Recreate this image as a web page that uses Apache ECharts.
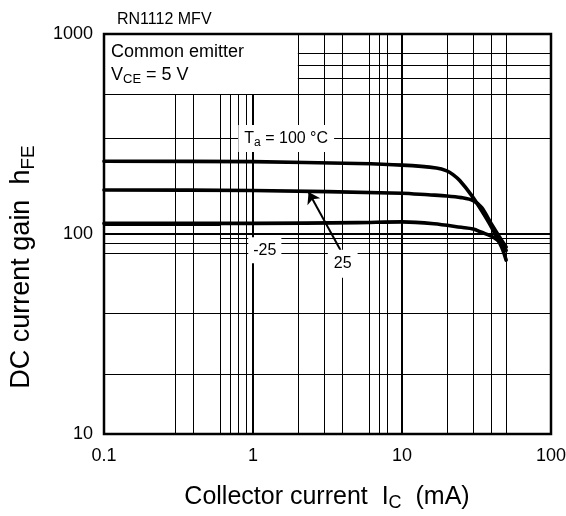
<!DOCTYPE html>
<html><head><meta charset="utf-8">
<script src="https://cdn.jsdelivr.net/npm/echarts@6/dist/echarts.min.js"></script>
<style>html,body{margin:0;padding:0;background:#fff}#c{width:566px;height:516px}</style>
</head><body><div id="c"></div>
<script>
// ---- data ----
const xMin = 0.1, xMax = 100;
const yMin = 10, yMax = 1000;
// grid lines (as drawn on the datasheet)
const gridXFull = [2, 3, 4, 6, 7, 8, 20, 30, 40, 50];
const gridXLower = [0.3, 0.4, 0.6, 0.7, 0.8, 0.9];   // start below the legend box
const gridXThickLower = [1];
const gridXThickFull = [10];
const gridYFull = [20, 40, 80, 90, 300, 500];
const gridYRight = [600, 700, 800];                  // start right of the legend box
const gridYThick = [100];
const gridYLeftShort = [110];                        // short segment on left
const gridYRightShort = [95];                        // segment on right
// curves: Ta = 100 °C, 25 °C, -25 °C
const ic100 = [0.1, 1, 5, 10, 17, 20, 22, 24.4, 29.3, 34.2, 39.9, 46.6, 50];
const hfe100 = [231, 230, 225, 221, 214, 207, 198, 185, 156, 131, 108, 86, 74];
const ic25 = [0.1, 1, 10, 15, 20, 25, 30, 34.2, 39.9, 46.6, 50];
const hfe25 = [166, 165, 160, 157, 155, 152, 147, 136, 112, 93, 86];
const icM25 = [0.1, 1, 5, 10, 16.4, 25, 30, 34.2, 41, 46.6, 50];
const hfeM25 = [113, 113, 114, 115, 112.5, 108, 106, 102, 96.4, 89.3, 82.8];

const FONT = '"Liberation Sans", Arial, sans-serif';
const zip = (a, b) => a.map((v, i) => [v, b[i]]);

const thin = { color: '#000', width: 1, type: 'solid' };
const thick = { color: '#000', width: 2, type: 'solid' };
const gridLines = [];
const vseg = (x, y0, y1, ls) => gridLines.push([{ coord: [x, y0], lineStyle: ls }, { coord: [x, y1] }]);
const hseg = (y, x0, x1, ls) => gridLines.push([{ coord: [x0, y], lineStyle: ls }, { coord: [x1, y] }]);
gridXFull.forEach(x => vseg(x, yMin, yMax, thin));
gridXLower.forEach(x => vseg(x, yMin, 500, thin));
gridXThickLower.forEach(x => vseg(x, yMin, 500, thick));
gridXThickFull.forEach(x => vseg(x, yMin, yMax, thick));
gridYFull.forEach(y => hseg(y, xMin, xMax, thin));
gridYRight.forEach(y => hseg(y, 2, xMax, thin));
gridYThick.forEach(y => hseg(y, xMin, xMax, thick));
gridYLeftShort.forEach(y => hseg(y, xMin, 0.6, thin));
gridYRightShort.forEach(y => hseg(y, 0.6, xMax, thin));

const curveStyle = { color: '#000', width: 3.6, join: 'round', cap: 'round' };
const curve = (name, d) => ({
  name, type: 'line', data: d, showSymbol: false, symbol: 'none',
  smooth: 0.3, lineStyle: curveStyle, z: 10, silent: true
});

const rich = {
  a: { fontSize: 16, fontFamily: FONT, color: '#000' },
  s: { fontSize: 12, fontFamily: FONT, color: '#000', padding: [9, 0, 0, 0] }
};

const chart = echarts.init(document.getElementById('c'), null, { renderer: 'canvas' });
chart.setOption({
  animation: false,
  backgroundColor: '#fff',
  title: {
    text: 'RN1112 MFV', left: 112, top: 7,
    textStyle: { fontSize: 16, fontWeight: 'normal', fontFamily: FONT, color: '#000' }
  },
  grid: { left: 104, right: 15, top: 34, bottom: 82, show: true, borderColor: '#000', borderWidth: 2.5,
          backgroundColor: 'transparent', containLabel: false, outerBoundsMode: 'none' },
  xAxis: {
    type: 'log', logBase: 10, min: xMin, max: xMax,
    axisLine: { show: false }, axisTick: { show: false }, splitLine: { show: false }, minorSplitLine: { show: false },
    axisLabel: { fontSize: 18, fontFamily: FONT, color: '#000', margin: 13, formatter: v => String(+(+v).toPrecision(3)) }
  },
  yAxis: {
    type: 'log', logBase: 10, min: yMin, max: yMax,
    axisLine: { show: false }, axisTick: { show: false }, splitLine: { show: false },
    axisLabel: { fontSize: 18, fontFamily: FONT, color: '#000', margin: 11, formatter: v => String(Math.round(v)) }
  },
  graphic: [
    { type: 'text', left: 111, top: 43, style: { text: 'Common emitter', font: '18px ' + FONT, fill: '#000' } },
    { type: 'text', left: 111, top: 66, style: {
        text: '{a|V}{s|CE}{a| = 5 V}',
        rich: {
          a: { fontSize: 18, fontFamily: FONT, fill: '#000' },
          s: { fontSize: 13, fontFamily: FONT, fill: '#000', padding: [9, 0, 0, 0] }
        }
    } },
    { type: 'text', x: 327, y: 497, style: {
        text: '{a|Collector current  I}{s|C}{a|  (mA)}', align: 'center', verticalAlign: 'middle',
        rich: {
          a: { fontSize: 25, fontFamily: FONT, fill: '#000' },
          s: { fontSize: 18, fontFamily: FONT, fill: '#000', padding: [13, 0, 0, 0] }
        }
    } },
    { type: 'text', x: 22, y: 267, rotation: Math.PI / 2, style: {
        text: '{a|DC current gain  h}{s|FE}', align: 'center', verticalAlign: 'middle',
        rich: {
          a: { fontSize: 27, fontFamily: FONT, fill: '#000' },
          s: { fontSize: 19, fontFamily: FONT, fill: '#000', padding: [13, 0, 0, 0] }
        }
    } }
  ],
  series: [
    {
      name: 'grid', type: 'line', data: [], silent: true, z: 1,
      markLine: { silent: true, symbol: ['none', 'none'], label: { show: false }, animation: false, data: gridLines }
    },
    {
      name: 'labels', type: 'line', data: [], silent: true, z: 5,
      markPoint: {
        silent: true, symbol: 'rect', symbolSize: 0, animation: false,
        label: { show: true, position: 'inside', backgroundColor: '#fff', color: '#000', fontSize: 16, fontFamily: FONT, rich },
        data: [
          { coord: [1.67, 300], label: { formatter: '{a|T}{s|a}{a| = 100 °C}', padding: [3, 6, 3, 6] } },
          { coord: [1.2, 83], label: { formatter: '{a|-25}', padding: [5, 5, 5, 5] } },
          { coord: [4.0, 71], label: { formatter: '{a|25}', padding: [6, 6, 6, 6] } }
        ]
      }
    },
    curve('100', zip(ic100, hfe100)),
    Object.assign(curve('25', zip(ic25, hfe25)), {
      markLine: {
        silent: true, symbol: ['none', 'arrow'], symbolSize: 11, label: { show: false }, animation: false,
        lineStyle: { color: '#000', width: 2, type: 'solid' },
        data: [[{ coord: [3.87, 83] }, { coord: [2.36, 162] }]]
      }
    }),
    curve('-25', zip(icM25, hfeM25))
  ]
});
</script>
</body></html>
